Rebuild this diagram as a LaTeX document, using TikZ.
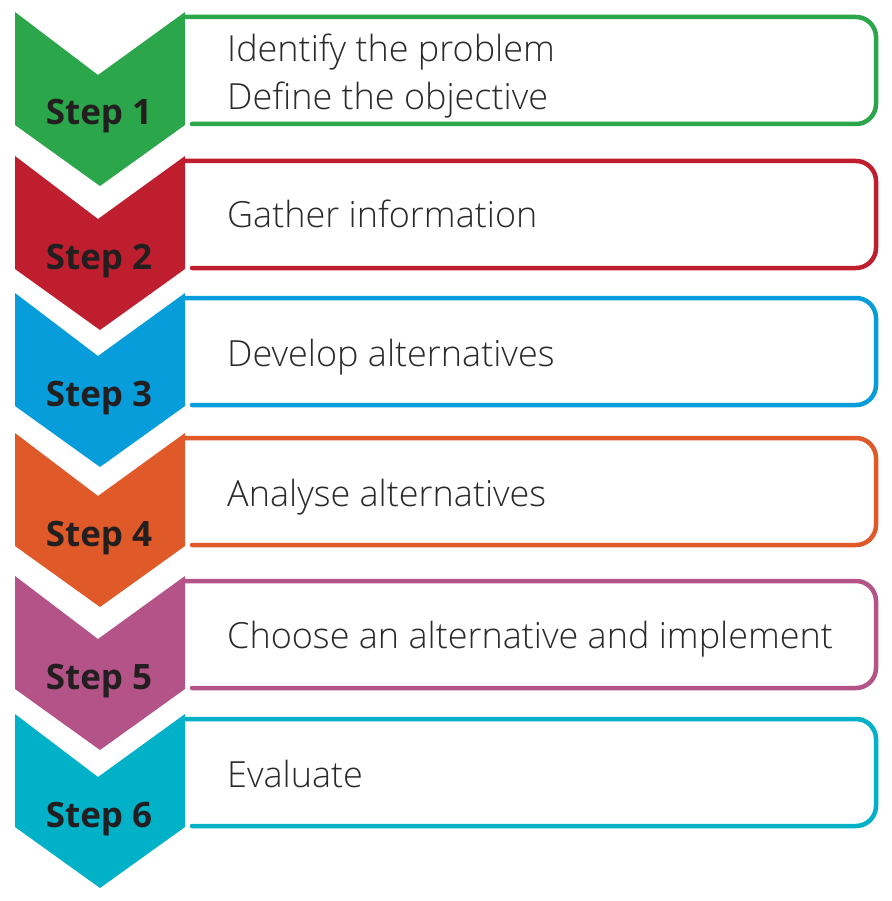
\documentclass[tikz,border=0pt]{standalone}
\usepackage{fontspec}
\setmainfont{Open Sans}
\newfontfamily\boxfont{Open Sans Light}
\definecolor{c1}{HTML}{2BA64B}
\definecolor{c2}{HTML}{BE1E2D}
\definecolor{c3}{HTML}{079DDB}
\definecolor{c4}{HTML}{DF5A28}
\definecolor{c5}{HTML}{B45387}
\definecolor{c6}{HTML}{00B1C7}
\definecolor{labelgray}{HTML}{231F20}
\definecolor{textgray}{HTML}{2A2A2A}
\tikzset{
  boxline/.style={line width=4.5pt, rounded corners=20pt, line cap=round},
  steplabel/.style={anchor=base, font=\bfseries\fontsize{35}{40}\selectfont, text=labelgray, inner sep=0pt},
  boxtext/.style={anchor=base west, font=\boxfont\fontsize{36}{44}\selectfont, text=textgray, inner sep=0pt}
}
\begin{document}
\begin{tikzpicture}[x=1pt,y=-1pt]
\useasboundingbox (0,0) rectangle (891,901);
\foreach \i/\t/\c in {1/12/c1,2/156/c2,3/293/c3,4/433/c4,5/576/c5,6/714/c6}{
  \fill[\c] (15,\t) -- (98,\t+63) -- (185,\t) -- (185,\t+113) -- (100,\t+174) -- (15,\t+113) -- cycle;
  \draw[\c, boxline] (185,\t+5) -- (876,\t+5) -- (876,\t+112) -- (192,\t+112);
  \node[steplabel] (s\i) at (99,\t+113) {Step \i};
}
\node[boxtext] (t1a) at (227,62) {Identify the problem};
\node[boxtext] (t1b) at (227,110) {Define the objective};
\node[boxtext] (t2) at (227,227) {Gather information};
\node[boxtext] (t3) at (227,366) {Develop alternatives};
\node[boxtext] (t4) at (227,506) {Analyse alternatives};
\node[boxtext] (t5) at (227,648) {Choose an alternative and implement};
\node[boxtext] (t6) at (227,787) {Evaluate};
\end{tikzpicture}
\end{document}
